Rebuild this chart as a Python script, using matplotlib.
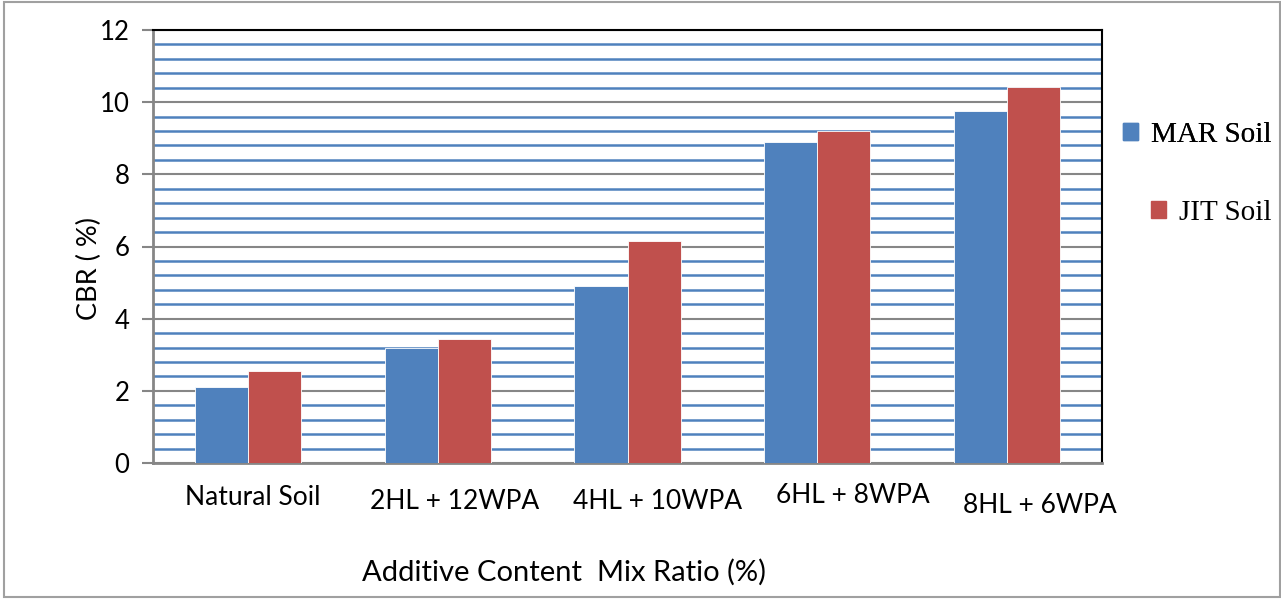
import matplotlib
matplotlib.use("Agg")
import matplotlib.pyplot as plt
import numpy as np
from matplotlib.patches import Rectangle, Patch
from matplotlib.ticker import MultipleLocator
import matplotlib.transforms as mtransforms

categories = ["Natural Soil", "2HL + 12WPA", "4HL + 10WPA", "6HL + 8WPA", "8HL + 6WPA"]
mar_soil = [2.1, 3.2, 4.9, 8.9, 9.75]
jit_soil = [2.55, 3.45, 6.15, 9.2, 10.42]
series_names = ["MAR Soil", "JIT Soil"]
y_ticks = [0, 2, 4, 6, 8, 10, 12]

BLUE = "#4F81BD"
RED = "#C0504D"
GRAY = "#868686"

fig = plt.figure(figsize=(12.81, 5.99), dpi=100)
ax = fig.add_axes([153/1281, 1-463/599, (1102-153)/1281, (463-30)/599])

x = np.arange(len(categories))
w = 0.28
ax.bar(x - w/2, mar_soil, width=w, color=BLUE, edgecolor="white", linewidth=0.6, zorder=3)
ax.bar(x + w/2, jit_soil, width=w, color=RED, edgecolor="white", linewidth=0.6, zorder=3)

ax.set_xlim(-0.5, len(categories) - 0.5)
ax.set_ylim(0, 12)
ax.set_yticks(y_ticks)
ax.yaxis.set_minor_locator(MultipleLocator(0.4))
ax.grid(which="minor", axis="y", color=BLUE, linewidth=1.8, zorder=1)
ax.grid(which="major", axis="y", color=GRAY, linewidth=1.5, zorder=2)
ax.tick_params(axis="y", which="major", length=8, width=1.5, color=GRAY,
               labelsize=18.5, pad=9)
ax.tick_params(axis="y", which="minor", length=0)
ax.set_xticks([])
for lab in ax.get_yticklabels():
    lab.set_fontfamily("Lato")

ax.spines["left"].set_color(GRAY)
ax.spines["left"].set_linewidth(2)
ax.spines["bottom"].set_color(GRAY)
ax.spines["bottom"].set_linewidth(2)
ax.spines["top"].set_color("black")
ax.spines["top"].set_linewidth(1.5)
ax.spines["right"].set_color("black")
ax.spines["right"].set_linewidth(1.5)

# category labels (manually offset as in the reference)
trans = mtransforms.blended_transform_factory(ax.transData, ax.transAxes)
dx = [0.026, 0.09, 0.16, 0.19, 0.174]
yy = [-0.0808, -0.090, -0.0878, -0.0762, -0.097]
for i, c in enumerate(categories):
    ax.text(x[i] + dx[i], yy[i], c, transform=trans, ha="center", va="center",
            fontsize=19, family="Lato")

fig.text(564/1281, 1-572/599, "Additive Content  Mix Ratio (%)", ha="center", va="center",
         fontsize=21, family="Lato")
fig.text(89/1281, 1-269/599, "CBR ( %)", rotation=90, ha="center", va="center",
         fontsize=19.5, family="Lato")

# legend (staggered, as in the reference)
common = dict(frameon=False, prop={"family": "Liberation Serif", "size": 21},
              handlelength=0.52, handleheight=0.52, handletextpad=0.45,
              borderpad=0, borderaxespad=0)
leg1 = fig.legend(handles=[Patch(color=BLUE)], labels=[series_names[0]],
                  loc="center left", bbox_to_anchor=(1123/1281, 1-135/599), **common)
fig.add_artist(leg1)
leg2 = fig.legend(handles=[Patch(color=RED)], labels=[series_names[1]],
                  loc="center left", bbox_to_anchor=(1151/1281, 1-213/599), **common)

fig.patches.append(Rectangle((4/1281, 2/599), 1 - 5/1281, 1 - 4/599, transform=fig.transFigure,
                             fill=False, edgecolor="#A0A0A0", linewidth=1.5))

fig.savefig("out.png", dpi=100)
